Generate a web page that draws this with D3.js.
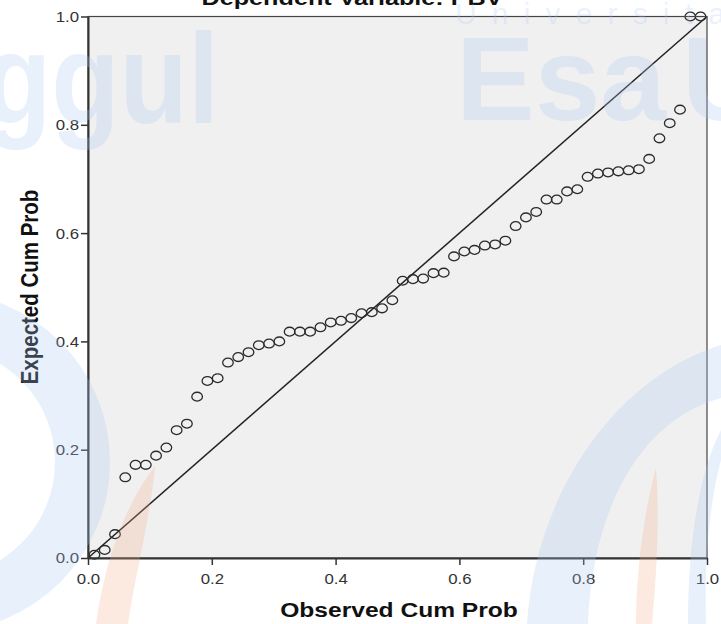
<!DOCTYPE html>
<html><head><meta charset="utf-8">
<script src="https://cdn.jsdelivr.net/npm/d3@7/dist/d3.min.js"></script>
<style>body{margin:0;background:#fff}svg{display:block}</style>
</head><body>
<svg id="c" width="721" height="624"></svg>
<script>
// Observed cumulative probability (60 cases)
const observed = [0.0104,0.0270,0.0436,0.0602,0.0768,0.0934,0.1100,0.1266,0.1432,0.1598,
  0.1763,0.1929,0.2095,0.2261,0.2427,0.2593,0.2759,0.2925,0.3091,0.3257,
  0.3423,0.3589,0.3755,0.3921,0.4087,0.4253,0.4419,0.4585,0.4751,0.4917,
  0.5083,0.5249,0.5415,0.5581,0.5747,0.5913,0.6079,0.6245,0.6411,0.6577,
  0.6743,0.6909,0.7075,0.7241,0.7407,0.7573,0.7739,0.7905,0.8071,0.8237,
  0.8402,0.8568,0.8734,0.8900,0.9066,0.9232,0.9398,0.9564,0.9730,0.9896];
// Expected cumulative probability
const expected = [0.006,0.015,0.044,0.149,0.172,0.172,0.189,0.204,0.236,0.248,
  0.298,0.327,0.332,0.361,0.371,0.380,0.393,0.396,0.400,0.418,
  0.418,0.418,0.426,0.435,0.438,0.443,0.452,0.454,0.461,0.476,
  0.512,0.515,0.516,0.526,0.527,0.557,0.566,0.569,0.577,0.579,
  0.586,0.613,0.629,0.639,0.662,0.662,0.677,0.681,0.704,0.710,
  0.712,0.714,0.716,0.718,0.737,0.775,0.803,0.828,1.000,1.000];
const tickValues = [0, 0.2, 0.4, 0.6, 0.8, 1.0];
const titleText = "Dependent Variable: PBV";
const xLabel = "Observed Cum Prob";
const yLabel = "Expected Cum Prob";

const SX = 1.2; // horizontal stretch of the original picture
const font = "'Liberation Sans', Arial, sans-serif";
const plot = {left: 88, right: 707, top: 16.5, bottom: 558};
const svg = d3.select('#c');

const x = d3.scaleLinear().domain([0, 1]).range([plot.left, plot.right]);
const y = d3.scaleLinear().domain([0, 1]).range([plot.bottom, plot.top]);

svg.append('rect').attr('width', 721).attr('height', 624).attr('fill', '#fff');
svg.append('rect')
  .attr('x', plot.left).attr('y', plot.top)
  .attr('width', plot.right - plot.left).attr('height', plot.bottom - plot.top)
  .attr('fill', '#f0f0f0');

// diagonal reference line
svg.append('line')
  .attr('x1', x(0)).attr('y1', y(0)).attr('x2', x(1)).attr('y2', y(1))
  .attr('stroke', '#222').attr('stroke-width', 1.5);

// points
svg.append('g').selectAll('ellipse').data(observed).join('ellipse')
  .attr('cx', (d) => x(d))
  .attr('cy', (d, i) => y(expected[i]))
  .attr('rx', 5.3).attr('ry', 4.4)
  .attr('fill', 'none').attr('stroke', '#2a2a2a').attr('stroke-width', 1.3);

// frame
svg.append('rect')
  .attr('x', plot.left).attr('y', plot.top)
  .attr('width', plot.right - plot.left).attr('height', plot.bottom - plot.top)
  .attr('fill', 'none').attr('stroke', '#444').attr('stroke-width', 1.2);

// axes
const xAxis = svg.append('g').attr('transform', `translate(0,${plot.bottom})`)
  .call(d3.axisBottom(x).tickValues(tickValues).tickFormat(d3.format('.1f')).tickSize(7).tickSizeOuter(0));
const yAxis = svg.append('g').attr('transform', `translate(${plot.left},0)`)
  .call(d3.axisLeft(y).tickValues(tickValues).tickFormat(d3.format('.1f')).tickSize(7).tickSizeOuter(0));
[xAxis, yAxis].forEach(a => {
  a.select('.domain').attr('stroke', '#333').attr('stroke-width', 2);
  a.selectAll('.tick line').attr('stroke', '#333').attr('stroke-width', 1.5);
  a.selectAll('.tick text').attr('fill', '#333').attr('font-family', font).attr('font-size', 14);
});
xAxis.selectAll('.tick text').attr('dy', null).attr('y', 26).attr('x', 0)
  .attr('text-anchor', 'middle').attr('transform', `scale(${SX},1)`);
yAxis.selectAll('.tick text').attr('x', null).attr('dy', '0.35em')
  .attr('text-anchor', 'end').attr('transform', `translate(-9,0) scale(${SX},1)`);

// title and axis titles
svg.append('text').text(titleText)
  .attr('transform', `translate(352,5) scale(${SX},1)`)
  .attr('text-anchor', 'middle').attr('font-family', font).attr('font-weight', 'bold')
  .attr('font-size', 21).attr('fill', '#111');
svg.append('text').text(xLabel)
  .attr('transform', `translate(399,617) scale(${SX},1)`)
  .attr('text-anchor', 'middle').attr('font-family', font).attr('font-weight', 'bold')
  .attr('font-size', 20.5).attr('fill', '#111');
svg.append('text').text(yLabel)
  .attr('transform', `translate(38,287) scale(${SX},1) rotate(-90)`)
  .attr('text-anchor', 'middle').attr('font-family', font).attr('font-weight', 'bold')
  .attr('font-size', 20.5).attr('fill', '#111');

// faint watermark of the source document
const wm = svg.append('g').attr('pointer-events', 'none');
const blue = 'rgba(170,200,245,0.27)';
const orange = 'rgba(245,170,130,0.26)';
const ring = (cx, cy, r1, r2) => `M${cx + r2},${cy}A${r2},${r2} 0 1 0 ${cx - r2},${cy}A${r2},${r2} 0 1 0 ${cx + r2},${cy}Z` +
  `M${cx + r1},${cy}A${r1},${r1} 0 1 1 ${cx - r1},${cy}A${r1},${r1} 0 1 1 ${cx + r1},${cy}Z`;
wm.append('path').attr('fill', blue).attr('fill-rule', 'evenodd').attr('d', ring(-60, 462, 115, 170));
wm.append('path').attr('fill', blue)
  .attr('d', 'M527,624C535,500 610,380 721,345L721,398C640,420 592,510 588,624Z');
wm.append('path').attr('fill', blue)
  .attr('d', 'M688,624C688,540 700,470 721,430L721,460C710,500 704,560 706,624Z');
wm.append('path').attr('fill', orange)
  .attr('d', 'M96,624C105,560 125,505 155,466C150,520 135,575 128,624Z');
wm.append('path').attr('fill', orange)
  .attr('d', 'M636,624C636,580 642,520 656,468C660,520 656,580 652,624Z');
wm.append('text').text('ggul').attr('x', -17).attr('y', 123)
  .attr('textLength', 236).attr('lengthAdjust', 'spacingAndGlyphs')
  .attr('font-family', font).attr('font-weight', 'bold').attr('font-size', 128).attr('fill', blue);
wm.append('text').text('Esa').attr('x', 456).attr('y', 120)
  .attr('textLength', 210).attr('lengthAdjust', 'spacingAndGlyphs')
  .attr('font-family', font).attr('font-weight', 'bold').attr('font-size', 118).attr('fill', blue);
wm.append('text').text('U').attr('x', 682).attr('y', 120)
  .attr('font-family', font).attr('font-weight', 'bold').attr('font-size', 118).attr('fill', blue);
wm.append('text').text('Universitas').attr('x', 455).attr('y', 24)
  .attr('textLength', 300).attr('lengthAdjust', 'spacing')
  .attr('font-family', font).attr('font-size', 30).attr('fill', 'rgba(170,200,245,0.25)');
</script>
</body></html>
